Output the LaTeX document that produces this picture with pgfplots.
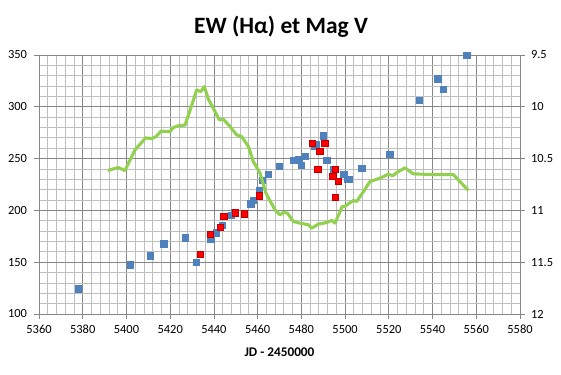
\documentclass[border=0pt]{standalone}
\usepackage{fontspec}
\setmainfont{Carlito}
\usepackage{pgfplots}
\pgfplotsset{compat=1.18}
\definecolor{gmaj}{HTML}{868686}
\definecolor{gmin}{HTML}{BEBEBE}
\definecolor{sblue}{HTML}{4F81BD}
\definecolor{sred}{HTML}{FF0000}
\definecolor{sredb}{HTML}{C00000}
\definecolor{sgreen}{HTML}{92D050}
\begin{document}
\begin{tikzpicture}
\path[use as bounding box] (0,0) rectangle (561bp,375bp);
\pgfplotsset{
  common/.style={
    at={(39bp,61bp)}, anchor=south west,
    width=481bp, height=259bp, scale only axis,
    xmin=5360, xmax=5580,
    tick align=outside, major tick length=4.5bp, minor tick length=0pt,
    tick style={draw=gmaj, line width=0.8bp},
    axis line style={draw=gmaj, line width=0.8bp},
    ticklabel style={font=\fontsize{12.5}{14}\selectfont},
    /pgf/number format/assume math mode=true,
    /pgf/number format/1000 sep={},
    clip=false,
  }
}
\begin{axis}[common,
  ymin=100, ymax=350,
  xtick distance=20, ytick distance=50,
  minor x tick num=4, minor y tick num=4,
  grid=both,
  major grid style={draw=gmaj, line width=0.8bp},
  minor grid style={draw=gmin, line width=0.8bp},
  xtick pos=bottom, ytick pos=left,
  xlabel={JD - 2450000},
  xlabel style={font=\bfseries\fontsize{13.3}{15}\selectfont, at={(axis description cs:0.5,0)}, anchor=base, yshift=-42.7bp},
  yticklabel style={xshift=-4bp},
  xticklabel style={yshift=-3bp},
]
\addplot[only marks, mark=square*, mark size=3.1bp, mark options={fill=sblue, draw=sblue}] coordinates {
(5377.8,124.4) (5401.6,147.5) (5410.8,156.2) (5417.0,167.8) (5426.8,173.6)
(5431.8,149.8) (5438.5,172.6) (5441.0,178.4) (5443.7,185.4) (5447.8,195.1)
(5449.3,198.6) (5456.8,206.4) (5457.9,209.9) (5460.6,219.6) (5462.1,228.8)
(5464.8,234.6) (5469.8,242.3) (5476.5,248.1) (5478.8,249.4) (5479.9,243.3)
(5481.7,252.0) (5485.7,261.6) (5486.7,263.5) (5489.9,272.2) (5491.6,248.1)
(5494.8,239.4) (5499.4,234.6) (5500.8,229.8) (5501.8,229.8) (5507.6,240.4)
(5520.4,254.6) (5533.8,306.0) (5542.4,327.2) (5544.8,317.3) (5555.6,350.0)
};
\addplot[only marks, mark=square*, mark size=3.1bp, mark options={fill=sred, draw=sredb, line width=0.6bp}] coordinates {
(5433.6,157.5) (5438.5,177.1) (5442.8,183.5) (5444.5,194.1) (5449.8,197.7)
(5453.8,196.7) (5460.6,214.1) (5484.9,264.5) (5488.4,256.8) (5490.7,264.5)
(5487.5,239.4) (5495.7,239.4) (5494.4,232.7) (5496.8,227.9) (5495.6,212.4)
};
\end{axis}
\begin{axis}[common,
  ymin=9.5, ymax=12, y dir=reverse,
  ytick distance=0.5,
  axis x line=none, axis y line*=right,
  yticklabel style={xshift=3bp},
]
\addplot[sgreen, line width=3.1bp, line join=round, no marks] coordinates {
(5391.4,10.615) (5396.3,10.586) (5399.3,10.615) (5403.9,10.416) (5408.8,10.300)
(5411.6,10.307) (5413.5,10.287) (5415.8,10.235) (5419.9,10.239) (5421.4,10.201)
(5424.2,10.181) (5426.8,10.177) (5429.9,9.982) (5432.1,9.837) (5434.0,9.853)
(5435.6,9.805) (5437.5,9.927) (5439.7,10.014) (5442.5,10.126) (5444.3,10.120)
(5447.1,10.184) (5450.4,10.271) (5452.7,10.287) (5455.8,10.384) (5458.0,10.528)
(5461.1,10.640) (5463.8,10.833) (5467.9,10.994) (5470.2,11.042) (5471.8,11.020)
(5473.6,11.026) (5476.3,11.107) (5479.1,11.122) (5483.2,11.139) (5484.8,11.171)
(5487.8,11.132) (5491.6,11.117) (5493.9,11.097) (5495.4,11.122) (5498.7,10.962)
(5500.0,10.962) (5501.5,10.936) (5503.8,10.904) (5505.3,10.914) (5508.4,10.818)
(5511.4,10.721) (5516.0,10.689) (5519.8,10.650) (5521.8,10.666) (5523.6,10.635)
(5527.4,10.589) (5531.2,10.647) (5539.6,10.654) (5549.5,10.654) (5556.4,10.808)
};
\end{axis}
\node[anchor=base, font=\bfseries\fontsize{23.5}{26}\selectfont] at (281bp,341.7bp) {EW (Hα) et Mag V};
\end{tikzpicture}
\end{document}
